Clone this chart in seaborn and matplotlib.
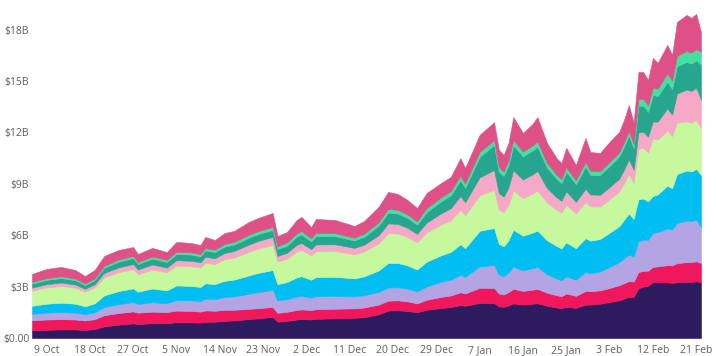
import matplotlib
matplotlib.use("Agg")
import matplotlib.pyplot as plt
import matplotlib.dates as mdates
from matplotlib.ticker import FuncFormatter
import seaborn as sns
import pandas as pd

dates = [
    "2020-10-06", "2020-10-09", "2020-10-12", "2020-10-15", "2020-10-17", "2020-10-19", "2020-10-21",
    "2020-10-24", "2020-10-27", "2020-10-28", "2020-10-31",
    "2020-11-03", "2020-11-05", "2020-11-08", "2020-11-10", "2020-11-11", "2020-11-13", "2020-11-15",
    "2020-11-17", "2020-11-20", "2020-11-22", "2020-11-25", "2020-11-26", "2020-11-28", "2020-11-30",
    "2020-12-01", "2020-12-03", "2020-12-04", "2020-12-08", "2020-12-12", "2020-12-14", "2020-12-17",
    "2020-12-19", "2020-12-21", "2020-12-23", "2020-12-25", "2020-12-27", "2020-12-30",
    "2021-01-01", "2021-01-03", "2021-01-04", "2021-01-07", "2021-01-10", "2021-01-11", "2021-01-12",
    "2021-01-13", "2021-01-14", "2021-01-16", "2021-01-18", "2021-01-19", "2021-01-21", "2021-01-23",
    "2021-01-24", "2021-01-25", "2021-01-27", "2021-01-29", "2021-01-30",
    "2021-02-01", "2021-02-03", "2021-02-05", "2021-02-06", "2021-02-07", "2021-02-08", "2021-02-09",
    "2021-02-10", "2021-02-11", "2021-02-12", "2021-02-13", "2021-02-15", "2021-02-16", "2021-02-17",
    "2021-02-19", "2021-02-20", "2021-02-21", "2021-02-22",
]

# values in $ billions, bottom layer first
layer1 = [0.45, 0.48, 0.50, 0.50, 0.47, 0.52, 0.68, 0.78, 0.85, 0.82, 0.86,
          0.86, 0.92, 0.92, 0.90, 0.95, 0.95, 1.00, 1.03, 1.10, 1.15, 1.23, 0.95, 1.00, 1.08,
          1.10, 1.08, 1.12, 1.15, 1.18, 1.22, 1.38, 1.60, 1.62, 1.58, 1.50, 1.65, 1.75,
          1.80, 1.92, 1.88, 2.05, 2.04, 1.85, 1.82, 1.90, 2.02, 1.95, 2.00, 2.03, 1.88, 1.78, 1.74, 1.82, 1.76, 1.95, 1.95,
          2.00, 2.10, 2.20, 2.30, 2.40, 2.40, 2.90, 3.00, 3.05, 3.27, 3.28, 3.25, 3.22, 3.25, 3.28, 3.28, 3.30, 3.27]
layer2 = [0.58, 0.60, 0.60, 0.58, 0.55, 0.58, 0.65, 0.68, 0.70, 0.66, 0.68,
          0.65, 0.68, 0.66, 0.64, 0.66, 0.64, 0.64, 0.62, 0.60, 0.59, 0.58, 0.52, 0.53, 0.56,
          0.57, 0.55, 0.56, 0.56, 0.55, 0.56, 0.57, 0.58, 0.58, 0.56, 0.52, 0.58, 0.65,
          0.68, 0.75, 0.72, 0.88, 0.88, 0.75, 0.72, 0.78, 0.85, 0.80, 0.82, 0.84, 0.76, 0.72, 0.70, 0.78, 0.70, 0.80, 0.78,
          0.78, 0.82, 0.88, 0.90, 0.92, 0.90, 0.95, 0.92, 0.88, 0.88, 0.90, 1.00, 1.02, 1.12, 1.15, 1.16, 1.17, 1.11]
layer3 = [0.38, 0.40, 0.41, 0.40, 0.37, 0.40, 0.48, 0.52, 0.55, 0.50, 0.55,
          0.52, 0.62, 0.62, 0.62, 0.68, 0.68, 0.75, 0.78, 0.88, 0.94, 0.99, 0.72, 0.74, 0.78,
          0.79, 0.72, 0.76, 0.74, 0.70, 0.72, 0.74, 0.76, 0.76, 0.74, 0.70, 0.78, 0.88,
          0.92, 1.02, 0.96, 1.25, 1.34, 1.10, 1.06, 1.15, 1.30, 1.20, 1.25, 1.28, 1.08, 0.97, 0.93, 1.00, 0.94, 1.10, 1.05,
          1.10, 1.23, 1.35, 1.45, 1.55, 1.45, 1.80, 1.82, 1.80, 1.99, 2.00, 2.15, 2.10, 2.35, 2.42, 2.40, 2.45, 2.10]
layer4 = [0.47, 0.52, 0.55, 0.52, 0.46, 0.52, 0.68, 0.76, 0.80, 0.72, 0.80,
          0.75, 0.85, 0.84, 0.82, 0.90, 0.88, 0.95, 0.98, 1.07, 1.12, 1.17, 0.95, 1.00, 1.12,
          1.15, 1.05, 1.12, 1.12, 1.05, 1.10, 1.25, 1.44, 1.42, 1.36, 1.28, 1.45, 1.55,
          1.62, 1.78, 1.68, 2.08, 2.16, 1.80, 1.75, 1.88, 2.15, 2.02, 2.08, 2.12, 1.98, 1.90, 1.86, 1.98, 1.84, 1.98, 1.90,
          1.90, 1.99, 2.10, 2.25, 2.40, 2.20, 2.45, 2.40, 2.25, 2.15, 2.20, 2.50, 2.40, 2.85, 2.92, 2.88, 2.95, 3.04]
layer5 = [0.88, 0.95, 0.98, 0.93, 0.85, 0.93, 1.05, 1.10, 1.12, 1.03, 1.10,
          1.05, 1.15, 1.15, 1.13, 1.20, 1.17, 1.25, 1.28, 1.37, 1.42, 1.46, 1.32, 1.36, 1.50,
          1.52, 1.42, 1.50, 1.50, 1.40, 1.45, 1.58, 1.74, 1.72, 1.66, 1.58, 1.70, 1.80,
          1.85, 2.00, 1.92, 2.07, 2.22, 2.00, 1.98, 2.08, 2.30, 2.20, 2.28, 2.33, 2.20, 2.12, 2.08, 2.20, 2.03, 2.10, 2.00,
          1.90, 1.95, 2.02, 2.12, 2.30, 2.10, 2.95, 2.95, 2.85, 3.35, 3.20, 3.20, 3.05, 3.00, 2.88, 2.85, 2.85, 2.74]
layer6 = [0.18, 0.19, 0.20, 0.19, 0.17, 0.19, 0.26, 0.28, 0.30, 0.27, 0.30,
          0.28, 0.32, 0.32, 0.31, 0.35, 0.34, 0.37, 0.39, 0.43, 0.45, 0.47, 0.33, 0.35, 0.40,
          0.41, 0.37, 0.40, 0.40, 0.38, 0.40, 0.48, 0.57, 0.56, 0.53, 0.50, 0.58, 0.65,
          0.70, 0.82, 0.76, 1.05, 1.17, 0.95, 0.92, 1.00, 1.18, 1.08, 1.12, 1.15, 0.85, 0.72, 0.70, 0.78, 0.68, 0.78, 0.70,
          0.68, 0.72, 0.75, 0.80, 0.85, 0.78, 0.95, 0.95, 0.92, 1.00, 1.05, 1.30, 1.25, 1.70, 1.85, 1.85, 1.90, 1.64]
layer7 = [0.23, 0.25, 0.26, 0.25, 0.22, 0.24, 0.30, 0.34, 0.35, 0.32, 0.35,
          0.33, 0.36, 0.36, 0.35, 0.37, 0.36, 0.38, 0.38, 0.40, 0.40, 0.41, 0.40, 0.42, 0.48,
          0.50, 0.45, 0.49, 0.47, 0.43, 0.46, 0.55, 0.63, 0.61, 0.58, 0.54, 0.62, 0.70,
          0.76, 0.92, 0.85, 1.20, 1.46, 1.25, 1.22, 1.30, 1.45, 1.35, 1.40, 1.42, 1.20, 1.08, 1.04, 1.15, 1.02, 1.30, 1.15,
          1.15, 1.24, 1.30, 1.35, 1.40, 1.25, 1.55, 1.52, 1.45, 1.55, 1.50, 1.55, 1.50, 1.60, 1.62, 1.60, 1.60, 2.04]
layer8 = [0.10, 0.10, 0.10, 0.10, 0.09, 0.10, 0.11, 0.12, 0.12, 0.11, 0.12,
          0.12, 0.13, 0.13, 0.13, 0.14, 0.14, 0.15, 0.15, 0.17, 0.17, 0.18, 0.17, 0.17, 0.19,
          0.20, 0.18, 0.19, 0.18, 0.17, 0.18, 0.20, 0.22, 0.21, 0.20, 0.19, 0.22, 0.23,
          0.24, 0.26, 0.25, 0.28, 0.29, 0.26, 0.25, 0.27, 0.30, 0.28, 0.29, 0.30, 0.26, 0.24, 0.23, 0.25, 0.23, 0.27, 0.23,
          0.22, 0.23, 0.24, 0.25, 0.26, 0.24, 0.40, 0.40, 0.38, 0.42, 0.42, 0.50, 0.48, 0.60, 0.64, 0.64, 0.65, 0.76]
layer9 = [0.47, 0.54, 0.55, 0.50, 0.44, 0.49, 0.58, 0.56, 0.52, 0.48, 0.50,
          0.46, 0.58, 0.55, 0.53, 0.65, 0.56, 0.64, 0.64, 0.75, 0.77, 0.81, 0.60, 0.62, 0.78,
          0.83, 0.66, 0.81, 0.77, 0.68, 0.74, 0.90, 0.99, 0.93, 0.85, 0.78, 0.89, 0.84,
          0.83, 1.03, 0.91, 1.00, 1.04, 1.02, 0.97, 1.03, 1.35, 1.09, 1.26, 1.43, 1.18, 0.97, 0.94, 1.14, 0.90, 1.40, 1.10,
          1.07, 1.17, 1.19, 1.31, 1.52, 1.24, 1.58, 1.57, 1.49, 1.74, 1.51, 1.66, 1.51, 1.98, 2.10, 2.03, 2.05, 1.17]

colors = ["#2E1A5E", "#F0185C", "#B3A4E3", "#00BEF2", "#C6F89E",
          "#F5A9C6", "#27A58F", "#45E0A0", "#DD5187"]

y_ticks = [0, 3, 6, 9, 12, 15, 18]
x_tick_dates = ["2020-10-09", "2020-10-18", "2020-10-27", "2020-11-05", "2020-11-14", "2020-11-23",
                "2020-12-02", "2020-12-11", "2020-12-20", "2020-12-29", "2021-01-07", "2021-01-16",
                "2021-01-25", "2021-02-03", "2021-02-12", "2021-02-21"]

df = pd.DataFrame({"date": pd.to_datetime(dates)})
layers = [layer1, layer2, layer3, layer4, layer5, layer6, layer7, layer8, layer9]

sns.set_theme(style="white")
plt.rcParams["font.family"] = ["Open Sans", "DejaVu Sans"]

fig = plt.figure(figsize=(7.16, 3.56), dpi=100)
ax = fig.add_axes([32 / 716, 18 / 356, 669 / 716, 334 / 356])

ax.stackplot(df["date"], *layers, colors=colors, linewidth=0.4,
             edgecolor="face", antialiased=True)

ax.set_xlim(df["date"].iloc[0], df["date"].iloc[-1])
ax.set_ylim(0, 19.5)
ax.set_yticks(y_ticks)
ax.yaxis.set_major_formatter(FuncFormatter(lambda v, p: "$0.00" if v == 0 else f"${v:.0f}B"))
ax.set_xticks(pd.to_datetime(x_tick_dates))
ax.set_xticklabels([f"{d.day} {d.strftime('%b')}" for d in pd.to_datetime(x_tick_dates)])

ax.tick_params(axis="both", length=0, labelsize=7.5, labelcolor="#605E5C")
ax.tick_params(axis="y", pad=2)
ax.tick_params(axis="x", pad=5)
sns.despine(ax=ax, left=True, bottom=True)
ax.grid(False)

fig.savefig("out.png", dpi=100)
